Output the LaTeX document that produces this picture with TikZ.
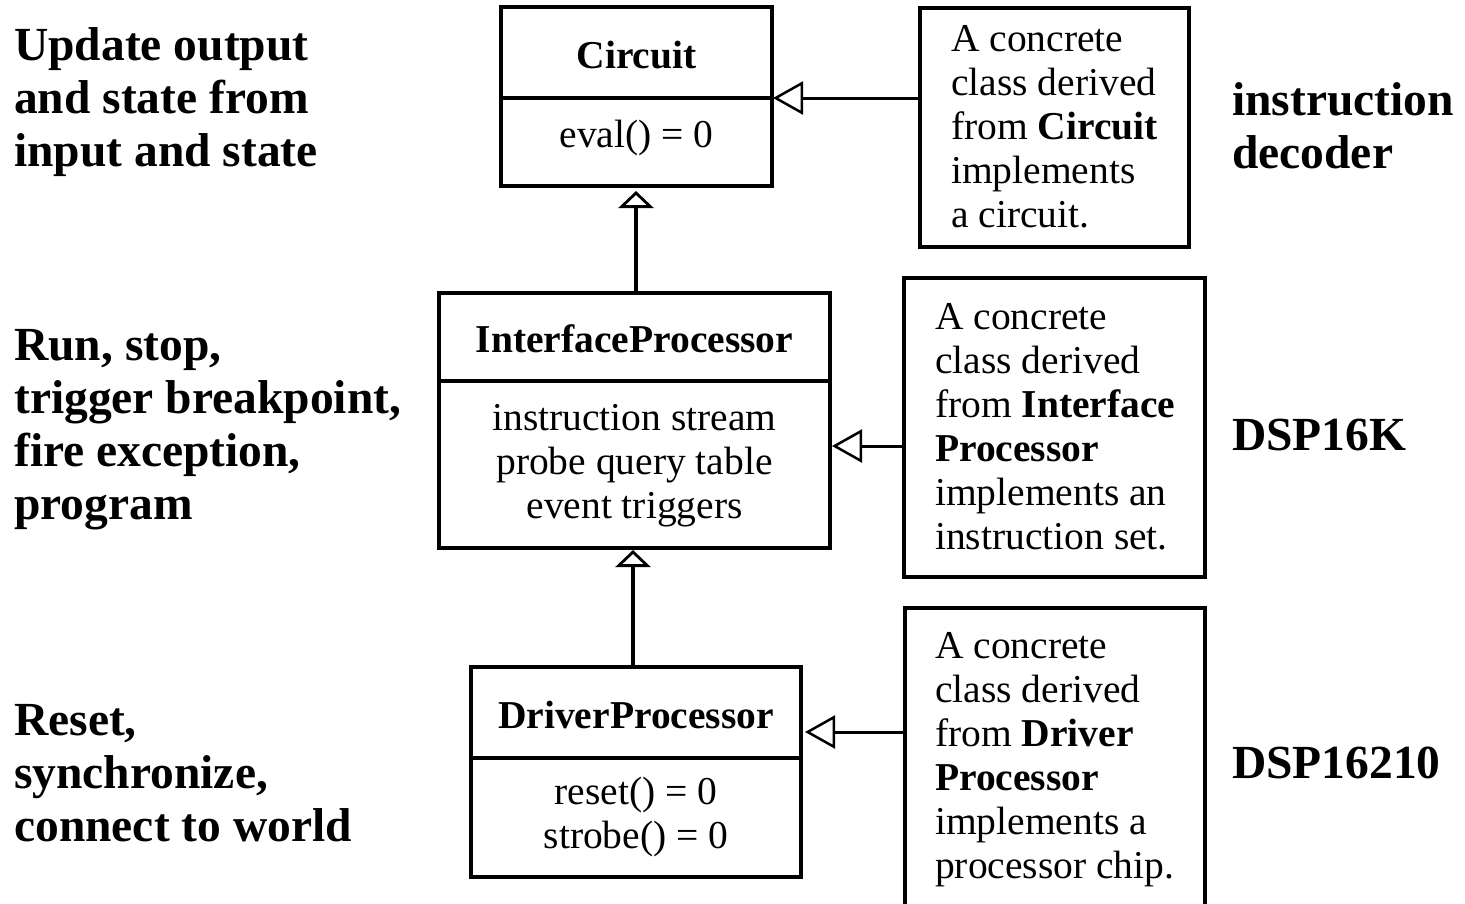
\documentclass[tikz,border=0pt]{standalone}
\usepackage{fontspec}
\setmainfont{Liberation Serif}
\usetikzlibrary{arrows.meta}
\begin{document}
\begin{tikzpicture}[x=1pt,y=-1pt,
  box/.style={draw, line width=3.5pt, inner sep=0pt, outer sep=0pt, anchor=north west},
  body/.style={font=\fontsize{39.5}{44}\selectfont, inner sep=0pt, align=center, anchor=base},
  title/.style={font=\fontsize{39.5}{44}\selectfont\bfseries, inner sep=0pt, anchor=base},
  notetext/.style={font=\fontsize{39.5}{44}\selectfont, inner sep=0pt, align=left, anchor=base west},
  lab/.style={font=\fontsize{47.5}{53}\selectfont\bfseries, inner sep=0pt, align=left, anchor=base west},
  divider/.style={line width=3.5pt},
  genh/.style={line width=3pt, -{Triangle[open, length=30pt, width=33pt, line width=2.5pt]}},
  genv/.style={line width=3.5pt, -{Triangle[open, length=17pt, width=35pt, line width=2.8pt]}}
]
\clip (0,0) rectangle (1465,903);
\fill[white] (0,0) rectangle (1465,903);

% class boxes
\node[box, minimum width=271pt, minimum height=179pt] (circuit) at (501,7) {};
\node[box, minimum width=391pt, minimum height=255pt] (iface) at (439,293) {};
\node[box, minimum width=330pt, minimum height=210pt] (driver) at (471,667) {};

% note boxes
\node[box, minimum width=269pt, minimum height=239pt] (note1) at (920,8) {};
\node[box, minimum width=301pt, minimum height=299pt] (note2) at (904,278) {};
\node[box, minimum width=300pt, minimum height=330pt] (note3) at (905,608) {};

% dividers
\coordinate (d1) at (0,98);
\coordinate (d2) at (0,381);
\coordinate (d3) at (0,758);
\draw[divider] (circuit.west |- d1) -- (circuit.east |- d1);
\draw[divider] (iface.west |- d2) -- (iface.east |- d2);
\draw[divider] (driver.west |- d3) -- (driver.east |- d3);

% class texts
\node[title] (tc) at (636.5,68) {Circuit};
\node[body] (bc) at (636.5,147) {eval() = 0};
\node[title] (ti) at (634.5,352) {InterfaceProcessor};
\node[body] (bi) at (634.5,518) {instruction stream\\probe query table\\event triggers};
\node[title] (td) at (636,728) {DriverProcessor};
\node[body] (bd) at (636,848) {reset() = 0\\strobe() = 0};

% note texts
\node[notetext] (t1) at (951,227) {A concrete\\class derived\\from \textbf{Circuit}\\implements\\a circuit.};
\node[notetext] (t2) at (935,549) {A concrete\\class derived\\from \textbf{Interface}\\\textbf{Processor}\\implements an\\instruction set.};
\node[notetext] (t3) at (935,878) {A concrete\\class derived\\from \textbf{Driver}\\\textbf{Processor}\\implements a\\processor chip.};

% left labels
\node[lab] (l1) at (14,166) {Update output\\and state from\\input and state};
\node[lab] (l2) at (14,519) {Run, stop,\\trigger breakpoint,\\fire exception,\\program};
\node[lab] (l3) at (14,841) {Reset,\\synchronize,\\connect to world};

% right labels
\node[lab] (r1) at (1232,168) {instruction\\decoder};
\node[lab] (r2) at (1232,450) {DSP16K};
\node[lab] (r3) at (1232,778) {DSP16210};

% generalization connectors
\coordinate (h1) at (0,98);
\coordinate (h2) at (0,446);
\coordinate (h3) at (0,732);
\draw[genh, shorten >=1pt] (note1.west |- h1) -- (circuit.east |- h1);
\draw[genh, shorten >=2pt] (note2.west |- h2) -- (iface.east |- h2);
\draw[genh, shorten >=4pt] (note3.west |- h3) -- (driver.east |- h3);

\coordinate (v1) at (636,0);
\coordinate (v2) at (633,0);
\draw[genv, shorten >=5pt] (iface.north -| v1) -- (circuit.south -| v1);
\draw[genv, shorten >=2pt] (driver.north -| v2) -- (iface.south -| v2);
\end{tikzpicture}
\end{document}
